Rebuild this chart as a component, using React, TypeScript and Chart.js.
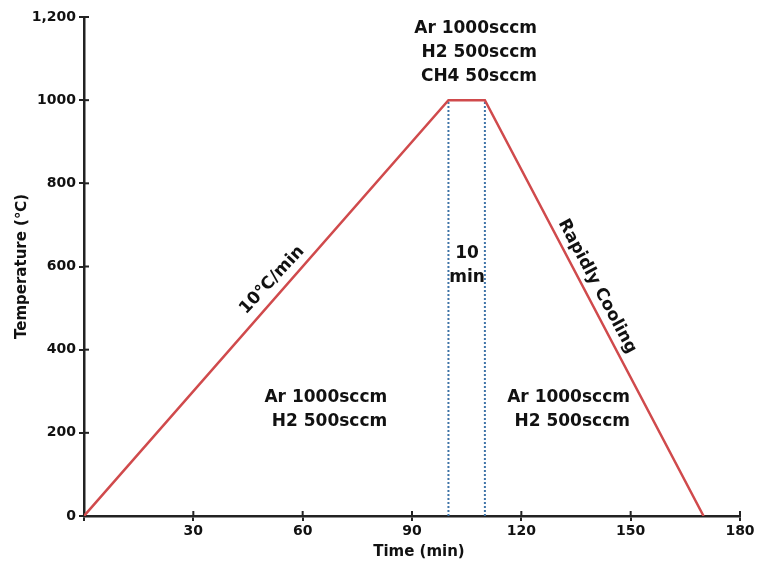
import React, { useEffect, useRef } from "react";
import { Chart, registerables } from "chart.js";

Chart.register(...registerables);

const profileTime = [0, 100, 110, 170];
const profileTemp = [0, 1000, 1000, 0];
const holdStart = 100;
const holdEnd = 110;
const xTicks = [0, 30, 60, 90, 120, 150, 180];
const yTicks = [0, 200, 400, 600, 800, 1000, 1200];
const yTickLabels = ["0", "200", "400", "600", "800", "1000", "1,200"];
const xTitle = "Time (min)";
const yTitle = "Temperature (℃)";

type Note = { lines: string[]; x: number; y: number; rot: number; align: "center" | "right" };
const notes: Note[] = [
  { lines: ["Ar 1000sccm", "H2 500sccm", "CH4 50sccm"], x: 124.3, y: 1115, rot: 0, align: "right" },
  { lines: ["10", "min"], x: 105.1, y: 603, rot: 0, align: "center" },
  { lines: ["10℃/min"], x: 51.6, y: 567, rot: -47, align: "center" },
  { lines: ["Rapidly Cooling"], x: 140.8, y: 552, rot: 62, align: "center" },
  { lines: ["Ar 1000sccm", "H2 500sccm"], x: 83.2, y: 255, rot: 0, align: "right" },
  { lines: ["Ar 1000sccm", "H2 500sccm"], x: 149.8, y: 255, rot: 0, align: "right" },
];

const FONT = "'DejaVu Sans', Verdana, sans-serif";

const notesPlugin = {
  id: "notes",
  afterDatasetsDraw(chart: any) {
    const ctx = chart.ctx;
    const xs = chart.scales.x;
    const ys = chart.scales.y;
    ctx.save();
    ctx.fillStyle = "#111";
    ctx.font = `bold 17px ${FONT}`;
    ctx.textBaseline = "middle";
    for (const n of notes) {
      const px = xs.getPixelForValue(n.x);
      const py = ys.getPixelForValue(n.y);
      const lh = 24;
      ctx.save();
      ctx.translate(px, py);
      ctx.rotate((n.rot * Math.PI) / 180);
      ctx.textAlign = n.align;
      n.lines.forEach((t, i) => {
        ctx.fillText(t, 0, (i - (n.lines.length - 1) / 2) * lh);
      });
      ctx.restore();
    }
    // axis titles
    ctx.font = `bold 15px ${FONT}`;
    ctx.textAlign = "center";
    ctx.fillText(xTitle, xs.getPixelForValue(91.9), xs.bottom - 15);
    ctx.save();
    ctx.translate(22, ys.getPixelForValue(600));
    ctx.rotate(-Math.PI / 2);
    ctx.fillText(yTitle, 0, 0);
    ctx.restore();
    // inward tick marks
    ctx.strokeStyle = "#222";
    ctx.lineWidth = 2;
    for (const v of xTicks) {
      if (v === 0) continue;
      const px = xs.getPixelForValue(v);
      ctx.beginPath();
      ctx.moveTo(px, xs.top);
      ctx.lineTo(px, xs.top - 5);
      ctx.stroke();
    }
    for (const v of yTicks) {
      if (v === 0) continue;
      const py = ys.getPixelForValue(v);
      ctx.beginPath();
      ctx.moveTo(ys.right, py);
      ctx.lineTo(ys.right + 5, py);
      ctx.stroke();
    }
    ctx.restore();
  },
};

export default function App() {
  const ref = useRef<HTMLCanvasElement>(null);
  useEffect(() => {
    if (!ref.current) return;
    const chart = new Chart(ref.current, {
      type: "scatter",
      data: {
        datasets: [
          {
            data: profileTime.map((t, i) => ({ x: t, y: profileTemp[i] })),
            showLine: true,
            borderColor: "#d04a4c",
            borderWidth: 2.5,
            pointRadius: 0,
            order: 0,
          },
          {
            data: [
              { x: holdStart, y: 0 },
              { x: holdStart, y: 1000 },
            ],
            showLine: true,
            borderColor: "#3f74a8",
            borderWidth: 2,
            borderDash: [2, 2],
            pointRadius: 0,
            order: 1,
          },
          {
            data: [
              { x: holdEnd, y: 0 },
              { x: holdEnd, y: 1000 },
            ],
            showLine: true,
            borderColor: "#3f74a8",
            borderWidth: 2,
            borderDash: [2, 2],
            pointRadius: 0,
            order: 1,
          },
        ],
      },
      options: {
        responsive: false,
        animation: false,
        layout: { padding: { top: 17, right: 17, left: 0, bottom: 0 } },
        plugins: { legend: { display: false }, tooltip: { enabled: false } },
        scales: {
          x: {
            type: "linear",
            min: 0,
            max: 180,
            afterBuildTicks: (s: any) => {
              s.ticks = xTicks.map((v) => ({ value: v }));
            },
            afterFit: (s: any) => {
              s.height = 51;
            },
            border: { color: "#222", width: 2.5 },
            grid: { drawOnChartArea: false, color: "#222", lineWidth: 2, tickLength: 5 },
            ticks: {
              color: "#111",
              font: { family: FONT, size: 14, weight: "bold" },
              padding: 2,
              callback: (v: any) => (v === 0 ? "" : String(v)),
            },
            title: { display: false },
          },
          y: {
            type: "linear",
            min: 0,
            max: 1200,
            afterBuildTicks: (s: any) => {
              s.ticks = yTicks.map((v) => ({ value: v }));
            },
            afterFit: (s: any) => {
              s.width = 84;
            },
            border: { color: "#222", width: 2.5 },
            grid: { drawOnChartArea: false, color: "#222", lineWidth: 2, tickLength: 5 },
            ticks: {
              color: "#111",
              font: { family: FONT, size: 14, weight: "bold" },
              padding: 3,
              callback: (v: any) => {
                const i = yTicks.indexOf(v);
                return i >= 0 ? yTickLabels[i] : "";
              },
            },
            title: { display: false },
          },
        },
      },
      plugins: [notesPlugin],
    } as any);
    return () => chart.destroy();
  }, []);
  return (
    <div style={{ position: "absolute", left: 0, top: 0, width: 757, height: 567, background: "#fff" }}>
      <canvas ref={ref} width={757} height={567} style={{ display: "block" }} />
    </div>
  );
}
